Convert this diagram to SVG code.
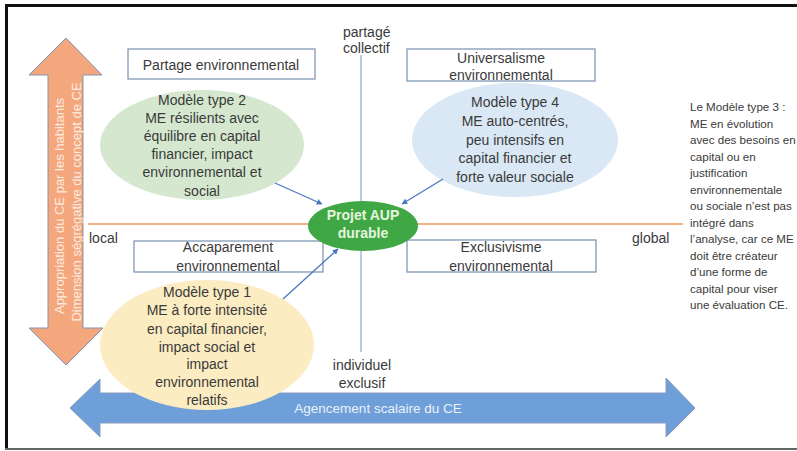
<svg xmlns="http://www.w3.org/2000/svg" width="797" height="451" viewBox="0 0 797 451">
<defs>
<style>
text{font-family:"Liberation Sans",Arial,sans-serif;}
.t{font-size:14px;fill:#3a3a3a;text-anchor:middle;}
.box{fill:#fff;stroke:#7890b4;stroke-width:1.2;}
.lab{font-size:14px;fill:#3a3a3a;}
.side{font-size:11.6px;fill:#3a3a3a;}
.conn{stroke:#4a78c0;stroke-width:1.3;fill:none;marker-end:url(#ah);}
</style>
<marker id="ah" viewBox="0 0 10 10" refX="9" refY="5" markerWidth="6" markerHeight="6" orient="auto" markerUnits="userSpaceOnUse">
<path d="M0,0 L10,5 L0,10 z" fill="#4a78c0"/>
</marker>
</defs>
<rect width="797" height="451" fill="#fff"/>
<!-- frame -->
<line x1="5" y1="5.5" x2="797" y2="5.5" stroke="#111" stroke-width="3"/>
<line x1="6.5" y1="4" x2="6.5" y2="450" stroke="#111" stroke-width="3"/>
<line x1="5" y1="449" x2="797" y2="449" stroke="#666" stroke-width="2"/>

<!-- axes -->
<g id="axes">
<line x1="361" y1="55" x2="361" y2="352" stroke="#8eb0dc" stroke-width="1.3"/>
<line x1="88" y1="224" x2="683" y2="224" stroke="#f4b183" stroke-width="2"/>
<text class="lab" x="343" y="37">partagé</text>
<text class="lab" x="343" y="53">collectif</text>
<text class="lab" x="89" y="243">local</text>
<text class="lab" x="632" y="243">global</text>
<text class="t" x="362" y="370">individuel</text>
<text class="t" x="362" y="388">exclusif</text>
</g>

<!-- orange vertical double arrow -->
<g id="axis-vertical">
<path d="M66,38 L102,75 L83,75 L83,328 L103,328 L66,365 L29,328 L48,328 L48,75 L29,75 Z" fill="#f4a77c" stroke="#8393ad" stroke-width="1"/>
<text transform="translate(63.5,206) rotate(-90)" style="font-size:13px;fill:#fdece0;text-anchor:middle">Appropriation du CE par les habitants</text>
<text transform="translate(80.5,202) rotate(-90)" style="font-size:13px;fill:#fdece0;text-anchor:middle">Dimension ségrégative du concept de CE</text>
</g>

<!-- blue horizontal double arrow -->
<g id="axis-horizontal">
<path d="M70,408 L100,379 L100,393 L666,393 L666,378 L695,408 L666,437 L666,423 L100,423 L100,437 Z" fill="#6f9fd8" stroke="#8a9cbc" stroke-width="1"/>
<text x="378" y="413" style="font-size:13.5px;fill:#eaf1fb;text-anchor:middle">Agencement scalaire du CE</text>
</g>

<!-- boxes -->
<g id="box-partage">
<rect class="box" x="128" y="49" width="187" height="30"/>
<text class="t" x="221" y="70">Partage environnemental</text>
</g>
<g id="box-universalisme">
<rect class="box" x="407" y="49" width="188" height="32"/>
<text class="t" x="501" y="63">Universalisme</text>
<text class="t" x="501" y="80">environnemental</text>
</g>
<g id="box-accaparement">
<rect class="box" x="134" y="241" width="189" height="31"/>
<text class="t" x="228" y="252">Accaparement</text>
<text class="t" x="228" y="271">environnemental</text>
</g>
<g id="box-exclusivisme">
<rect class="box" x="407" y="240" width="189" height="32"/>
<text class="t" x="501" y="252">Exclusivisme</text>
<text class="t" x="501" y="271">environnemental</text>
</g>

<!-- ellipses -->
<g id="modele-2">
<ellipse cx="202" cy="145" rx="102" ry="55" fill="#d5e8cf"/>
<text class="t" x="202" y="105">Modèle type 2</text>
<text class="t" x="202" y="123">ME résilients avec</text>
<text class="t" x="202" y="141">équilibre en capital</text>
<text class="t" x="202" y="159">financier, impact</text>
<text class="t" x="202" y="177">environnemental et</text>
<text class="t" x="202" y="196">social</text>
</g>
<g id="modele-4">
<ellipse cx="515" cy="140" rx="103" ry="57" fill="#dae8f5"/>
<text class="t" x="515" y="107">Modèle type 4</text>
<text class="t" x="515" y="126">ME auto-centrés,</text>
<text class="t" x="515" y="145">peu intensifs en</text>
<text class="t" x="515" y="163">capital financier et</text>
<text class="t" x="515" y="182">forte valeur sociale</text>
</g>
<g id="modele-1">
<ellipse cx="207" cy="345" rx="107" ry="65" fill="#fcecc2"/>
<text class="t" x="207" y="297">Modèle type 1</text>
<text class="t" x="207" y="315">ME à forte intensité</text>
<text class="t" x="207" y="334">en capital financier,</text>
<text class="t" x="207" y="352">impact social et</text>
<text class="t" x="207" y="369">impact</text>
<text class="t" x="207" y="387">environnemental</text>
<text class="t" x="207" y="405">relatifs</text>
</g>
<g id="projet-aup">
<ellipse cx="363" cy="226" rx="55" ry="25" fill="#3fa845"/>
<text x="363" y="220" style="font-size:14px;font-weight:bold;fill:#e6f4df;text-anchor:middle">Projet AUP</text>
<text x="363" y="238" style="font-size:14px;font-weight:bold;fill:#e6f4df;text-anchor:middle">durable</text>
</g>

<!-- connectors -->
<g id="connectors">
<line class="conn" x1="275" y1="183" x2="322" y2="204"/>
<line class="conn" x1="443" y1="179" x2="402" y2="204"/>
<line class="conn" x1="283" y1="299" x2="338" y2="249"/>
</g>

<!-- side note -->
<g id="note-type3">
<text class="side" x="690" y="111">Le Modèle type 3 :</text>
<text class="side" x="690" y="127.5">ME en évolution</text>
<text class="side" x="690" y="144">avec des besoins en</text>
<text class="side" x="690" y="160.5">capital ou en</text>
<text class="side" x="690" y="177">justification</text>
<text class="side" x="690" y="193.5">environnementale</text>
<text class="side" x="690" y="210">ou sociale n’est pas</text>
<text class="side" x="690" y="226.5">intégré dans</text>
<text class="side" x="690" y="243">l’analyse, car ce ME</text>
<text class="side" x="690" y="259.5">doit être créateur</text>
<text class="side" x="690" y="276">d’une forme de</text>
<text class="side" x="690" y="292.5">capital pour viser</text>
<text class="side" x="690" y="309">une évaluation CE.</text>
</g>
</svg>
